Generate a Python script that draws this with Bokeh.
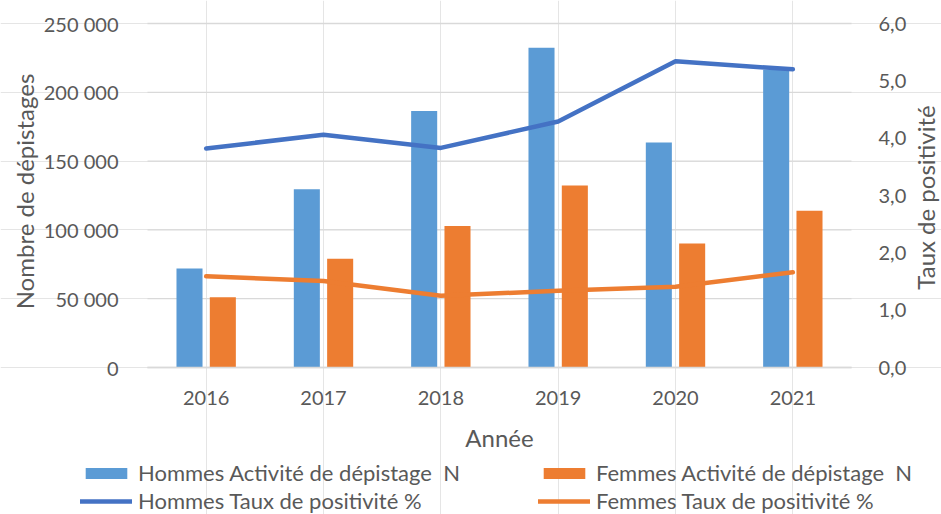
from math import pi
from bokeh.plotting import figure
from bokeh.models import (ColumnDataSource, Range1d, LinearAxis, FixedTicker,
                          Legend, LegendItem, Label)
from bokeh.transform import dodge
from bokeh.embed import file_html
from bokeh.resources import INLINE

# ---- data ----
years = ["2016", "2017", "2018", "2019", "2020", "2021"]
hommes_n = [72000, 129500, 186500, 232300, 163500, 216500]
femmes_n = [51000, 79000, 102800, 132300, 90100, 114000]
hommes_pct = [3.82, 4.06, 3.83, 4.29, 5.34, 5.20]
femmes_pct = [1.59, 1.51, 1.25, 1.34, 1.41, 1.66]

y_ticks = [0, 50000, 100000, 150000, 200000, 250000]
y_tick_labels = ["0", "50 000", "100 000", "150 000", "200 000", "250 000"]
pct_ticks = [0, 1, 2, 3, 4, 5, 6]
pct_tick_labels = ["0,0", "1,0", "2,0", "3,0", "4,0", "5,0", "6,0"]

series_labels = ["Hommes Activité de dépistage  N", "Femmes Activité de dépistage  N",
                 "Hommes Taux de positivité %", "Femmes Taux de positivité %"]
x_title = "Année"
y_title = "Nombre de dépistages"
y2_title = "Taux de positivité"

# ---- style / layout ----
FONT = "Lato"
TXT = "#595959"
BLUE_BAR = "#5B9BD5"
ORANGE = "#ED7D31"
BLUE_LINE = "#4472C4"
GRID = "#D9D9D9"
BAR_W = 0.222
BAR_OFF = 0.142
LINE_W = 4.5
W, H = 941, 514
PL, PR, PT, PB = 147, 851, 23, 367      # plot-area edges (px)

n = len(years)
xs = list(range(n))
ppx = (PR - PL) / n
x_range = Range1d(-0.5 - PL / ppx, n - 0.5 + (W - PR) / ppx)
ymax = y_ticks[-1]
ppy = (PB - PT) / ymax
y_range = Range1d(-(H - PB) / ppy, ymax + PT / ppy)
pmax = pct_ticks[-1]
ppp = (PB - PT) / pmax
pct_range = Range1d(-(H - PB) / ppp, pmax + PT / ppp)

source = ColumnDataSource(dict(x=xs, year=years, hommes_n=hommes_n, femmes_n=femmes_n,
                               hommes_pct=hommes_pct, femmes_pct=femmes_pct))
grid_src = ColumnDataSource(dict(y=y_ticks, x0=[-0.5] * len(y_ticks),
                                 x1=[n - 0.5] * len(y_ticks)))

p = figure(width=W, height=H, title=None, x_range=x_range, y_range=y_range,
           x_axis_location=None, y_axis_location=None,
           output_backend="svg", toolbar_location=None, min_border=0)
p.outline_line_color = None
p.background_fill_color = "white"
p.border_fill_color = "white"
p.extra_y_ranges = {"pct": pct_range}

# grid lines
p.segment(x0="x0", x1="x1", y0="y", y1="y", source=grid_src,
          line_color=GRID, line_width=1.3)

# bars and lines
hb = p.vbar(x=dodge("x", -BAR_OFF), top="hommes_n", width=BAR_W,
            source=source, fill_color=BLUE_BAR, line_color=None)
fb = p.vbar(x=dodge("x", BAR_OFF), top="femmes_n", width=BAR_W,
            source=source, fill_color=ORANGE, line_color=None)
hl = p.line(x="x", y="hommes_pct", source=source, y_range_name="pct",
            line_color=BLUE_LINE, line_width=LINE_W, line_cap="round", line_join="round")
fl = p.line(x="x", y="femmes_pct", source=source, y_range_name="pct",
            line_color=ORANGE, line_width=LINE_W, line_cap="round", line_join="round")

def style_axis(ax, standoff):
    ax.major_tick_line_color = None
    ax.minor_tick_line_color = None
    ax.major_label_text_font = FONT
    ax.major_label_text_font_size = "20px"
    ax.major_label_text_color = TXT
    ax.major_label_standoff = standoff

# x axis (years) at value 0
xa = LinearAxis(fixed_location=0, bounds=(-0.5, n - 0.5),
                ticker=FixedTicker(ticks=xs),
                major_label_overrides=dict(zip(xs, years)))
style_axis(xa, 17)
xa.axis_line_color = GRID
xa.axis_line_width = 1.3
p.add_layout(xa, "below")

# left y axis
ya = LinearAxis(fixed_location=-0.5, bounds=(0, ymax), ticker=FixedTicker(ticks=y_ticks),
                major_label_overrides=dict(zip(y_ticks, y_tick_labels)))
style_axis(ya, 23)
ya.axis_line_color = None
p.add_layout(ya, "left")

# right y axis
ra = LinearAxis(y_range_name="pct", fixed_location=n - 0.5, bounds=(0, pmax),
                ticker=FixedTicker(ticks=pct_ticks),
                major_label_overrides=dict(zip(pct_ticks, pct_tick_labels)))
style_axis(ra, 21)
ra.axis_line_color = None
p.add_layout(ra, "right")

# axis titles
def title(text, x, y, angle):
    p.add_layout(Label(x=x, y=y, x_units="screen", y_units="screen", text=text,
                       angle=angle, angle_units="rad", text_align="center",
                       text_baseline="middle", text_font=FONT, text_font_size="24px",
                       text_color=TXT))

title(x_title, (PL + PR) / 2, H - 437, 0)
title(y_title, 24, H - 191, pi / 2)
title(y2_title, 925, H - 197, pi / 2)

# legend (2 columns x 2 rows) below the chart
legend = Legend(items=[LegendItem(label=series_labels[0], renderers=[hb]),
                       LegendItem(label=series_labels[2], renderers=[hl]),
                       LegendItem(label=series_labels[1], renderers=[fb]),
                       LegendItem(label=series_labels[3], renderers=[fl])],
                location=(80, 0), orientation="vertical", ncols=2,
                glyph_width=52, glyph_height=14, label_standoff=6,
                label_width=399, label_height=25, spacing=1,
                padding=0, margin=0, border_line_color=None, background_fill_alpha=0,
                label_text_font=FONT, label_text_font_size="22px", label_text_color=TXT)
p.add_layout(legend)

open("out.html", "w").write(file_html(p, INLINE))
